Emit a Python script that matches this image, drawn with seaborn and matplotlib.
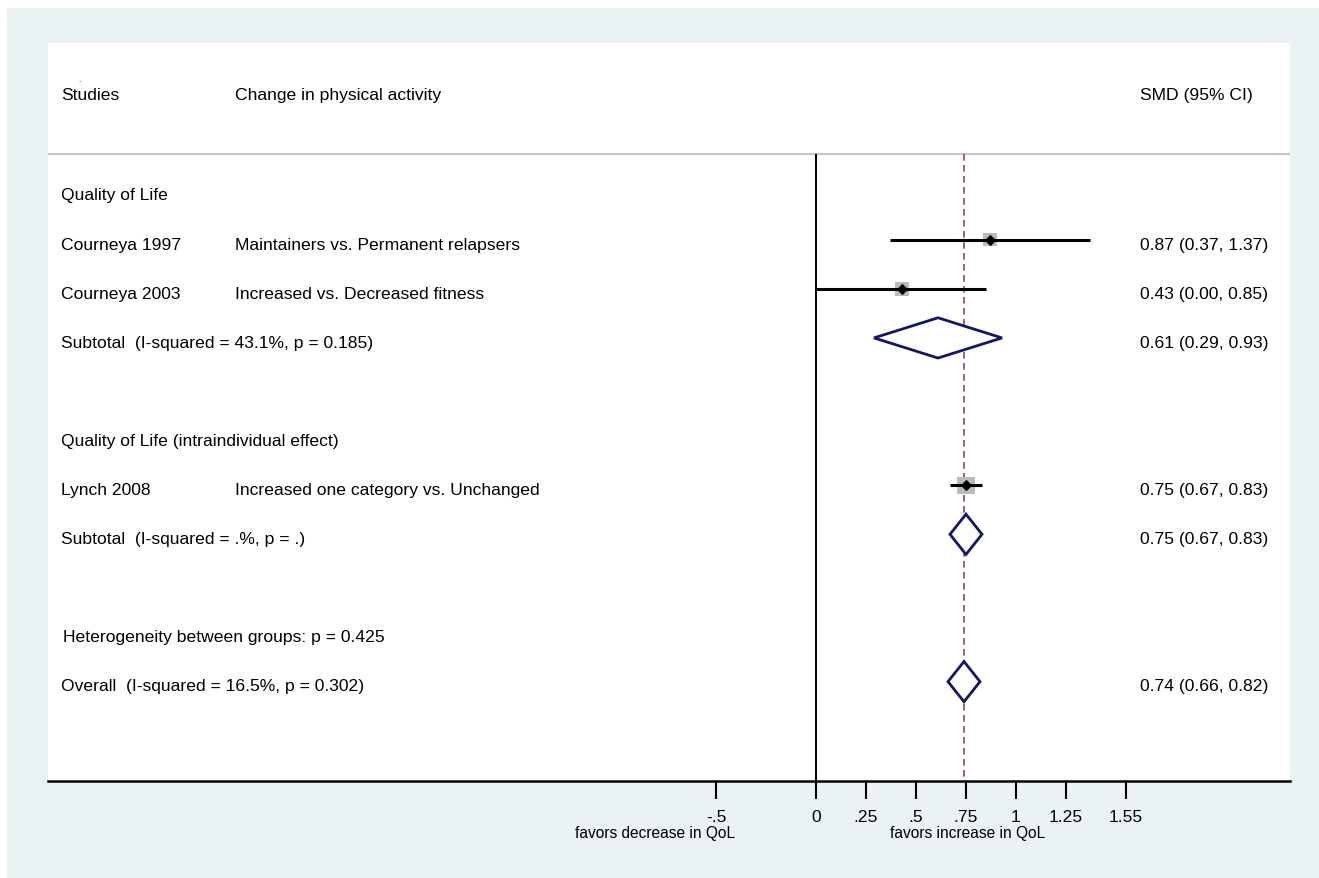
import numpy as np
import pandas as pd
import matplotlib
matplotlib.use("Agg")
import matplotlib.pyplot as plt
from matplotlib.patches import Rectangle
from matplotlib.transforms import blended_transform_factory
import seaborn as sns

# ---- data -------------------------------------------------------------
study_names = ["Courneya 1997", "Courneya 2003", "Lynch 2008"]
study_contrasts = ["Maintainers vs. Permanent relapsers",
                   "Increased vs. Decreased fitness",
                   "Increased one category vs. Unchanged"]
study_smd = [0.87, 0.43, 0.75]
study_lo = [0.37, 0.00, 0.67]
study_hi = [1.37, 0.85, 0.83]
study_rows = [2, 3, 7]

pooled_labels = ["Subtotal  (I-squared = 43.1%, p = 0.185)",
                 "Subtotal  (I-squared = .%, p = .)",
                 "Overall  (I-squared = 16.5%, p = 0.302)"]
pooled_smd = [0.61, 0.75, 0.74]
pooled_lo = [0.29, 0.67, 0.66]
pooled_hi = [0.93, 0.83, 0.82]
pooled_rows = [4, 8, 11]

group_labels = ["Quality of Life", "Quality of Life (intraindividual effect)"]
group_rows = [1, 6]

heterogeneity_label = "Heterogeneity between groups: p = 0.425"
heterogeneity_row = 10

tick_values = [-0.5, 0, 0.25, 0.5, 0.75, 1, 1.25, 1.55]
tick_labels = ["-.5", "0", ".25", ".5", ".75", "1", "1.25", "1.55"]

# ---- styling ----------------------------------------------------------
sns.set_theme(style="white")
plt.rcParams["font.family"] = ["Liberation Sans", "DejaVu Sans"]
plt.rcParams["text.color"] = "black"
plt.rcParams["xtick.color"] = "black"
plt.rcParams["xtick.labelcolor"] = "black"

W, H = 1319, 879
BG = "#EAF2F3"
NAVY = "#14146B"
RED = "#A3414A"
BOX = "#BBBBBB"
FS = 12.6

fig = plt.figure(figsize=(W / 100, H / 100), dpi=100, facecolor="white")
fig.patches.append(Rectangle((7 / W, 0), 1 - 7 / W, 1 - 9 / H,
                             transform=fig.transFigure, color=BG, zorder=-10))

ax = fig.add_axes([48 / W, 1 - 782 / H, (1290 - 48) / W, (782 - 44) / H])
ax.set_facecolor("white")
ax.set_xlim(-3.84, 2.37)
ax.set_ylim(13.024, -2.006)

for side in ["top", "left", "right"]:
    ax.spines[side].set_visible(False)
ax.spines["bottom"].set_color("black")
ax.spines["bottom"].set_linewidth(1.8)
ax.set_yticks([])
ax.set_xticks(tick_values)
ax.set_xticklabels(tick_labels, fontsize=FS, color="black")
ax.tick_params(axis="x", direction="out", length=13, width=1.5,
               color="black", pad=7, bottom=True)

header_line = 0.255
bottom_row = 13.024
ax.axhline(header_line, color="#C6C6C6", lw=1.5, zorder=1)
ax.vlines(0, header_line, bottom_row, color="black", lw=1.4, zorder=2)
ax.vlines(pooled_smd[-1], header_line, bottom_row, color=RED, lw=1.2,
          linestyles=[(0, (4.0, 2.6))], zorder=2)

# study boxes, CI lines and point estimates
studies = pd.DataFrame({"smd": study_smd, "row": study_rows,
                        "lo": study_lo, "hi": study_hi})
box_side = [9.6, 10.0, 12.4]
sns.scatterplot(data=studies, x="smd", y="row", marker="s",
                s=[b ** 2 for b in box_side], color=BOX, linewidth=0,
                ax=ax, zorder=3, legend=False)
ax.hlines(studies["row"], studies["lo"], studies["hi"], color="black",
          lw=2.2, zorder=4)
sns.scatterplot(data=studies, x="smd", y="row", marker="D", s=34,
                color="black", linewidth=0, ax=ax, zorder=5, legend=False)

# pooled diamonds
half_h = 0.41
for est, lo, hi, r in zip(pooled_smd, pooled_lo, pooled_hi, pooled_rows):
    ax.fill([lo, est, hi, est, lo], [r, r - half_h, r, r + half_h, r],
            facecolor="white", edgecolor=NAVY, lw=2.0, zorder=4)

ax.set_xlabel("")
ax.set_ylabel("")

# ---- text columns -----------------------------------------------------
def px(x):
    return (x - 816) / 200

col_a, col_b, col_c = px(61), px(235), px(1140)
off = 0.18

ax.text(px(79), -1.24, ".", fontsize=6, ha="center", va="baseline")
ax.text(col_a, -0.866, "Studies", fontsize=FS, va="baseline")
ax.text(col_b, -0.866, "Change in physical activity", fontsize=FS, va="baseline")
ax.text(col_c, -0.866, "SMD (95% CI)", fontsize=FS, va="baseline")

for lab, r in zip(group_labels, group_rows):
    ax.text(col_a, r + off, lab, fontsize=FS, va="baseline")

for name, contrast, est, lo, hi, r in zip(study_names, study_contrasts,
                                          study_smd, study_lo, study_hi,
                                          study_rows):
    ax.text(col_a, r + off, name, fontsize=FS, va="baseline")
    ax.text(col_b, r + off, contrast, fontsize=FS, va="baseline")
    ax.text(col_c, r + off, f"{est:.2f} ({lo:.2f}, {hi:.2f})",
            fontsize=FS, va="baseline")

for lab, est, lo, hi, r in zip(pooled_labels, pooled_smd, pooled_lo,
                               pooled_hi, pooled_rows):
    ax.text(col_a, r + off, lab, fontsize=FS, va="baseline")
    ax.text(col_c, r + off, f"{est:.2f} ({lo:.2f}, {hi:.2f})",
            fontsize=FS, va="baseline")

ax.text(px(63), heterogeneity_row + off, heterogeneity_label,
        fontsize=FS, va="baseline")

# favours labels under the axis
trans = blended_transform_factory(ax.transData, fig.transFigure)
ax.text(px(655), 1 - 838 / H, "favors decrease in QoL", fontsize=11.2,
        ha="center", va="baseline", transform=trans, clip_on=False)
ax.text(px(968), 1 - 838 / H, "favors increase in QoL", fontsize=11.2,
        ha="center", va="baseline", transform=trans, clip_on=False)

fig.savefig("out.png", dpi=100, facecolor=fig.get_facecolor())
